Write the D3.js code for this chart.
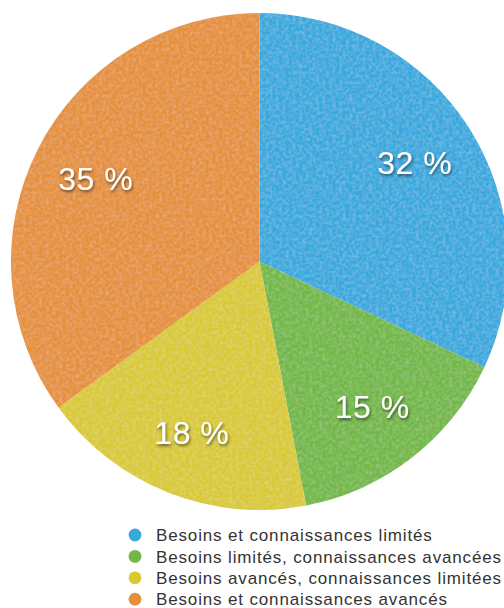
<!DOCTYPE html>
<html>
<head>
<meta charset="utf-8">
<script src="https://cdn.jsdelivr.net/npm/d3@7"></script>
<style>
  html, body { margin: 0; padding: 0; background: #fff; }
  svg { display: block; }
</style>
</head>
<body>
<svg id="chart" width="504" height="608"></svg>
<script>
// Répartition des profils (en %)
const categories = [
  "Besoins et connaissances limités",
  "Besoins limités, connaissances avancées",
  "Besoins avancés, connaissances limitées",
  "Besoins et connaissances avancés"
];
const values = [32, 15, 18, 35];
const colors = ["#37a9de", "#73b846", "#d9c931", "#e5913b"];

const svg = d3.select("#chart");
const cx = 259.5, cy = 261.5, R = 248.5;

const defs = svg.append("defs");

// Light grain on the slices
const grain = defs.append("filter").attr("id", "grain")
  .attr("x", 0).attr("y", 0).attr("width", 1).attr("height", 1);
grain.append("feTurbulence").attr("type", "fractalNoise")
  .attr("baseFrequency", 0.3).attr("numOctaves", 2).attr("seed", 4).attr("result", "n");
grain.append("feColorMatrix").attr("in", "n").attr("type", "matrix")
  .attr("values", "0 0 0 0 1  0 0 0 0 1  0 0 0 0 1  0.3 0 0 0 -0.11")
  .attr("result", "speck");
grain.append("feComposite").attr("in", "speck").attr("in2", "SourceGraphic")
  .attr("operator", "in").attr("result", "sp");
grain.append("feMerge").call(m => {
  m.append("feMergeNode").attr("in", "SourceGraphic");
  m.append("feMergeNode").attr("in", "sp");
});

// Soft shadow under the percentage labels
const shadow = defs.append("filter").attr("id", "txtShadow")
  .attr("x", "-20%").attr("y", "-30%").attr("width", "140%").attr("height", "170%");
shadow.append("feDropShadow").attr("dx", 1).attr("dy", 2)
  .attr("stdDeviation", 1.4).attr("flood-color", "#000").attr("flood-opacity", 0.55);

const pie = d3.pie().sort(null).value(d => d.value);
const data = pie(categories.map((c, i) => ({ name: c, value: values[i], color: colors[i] })));

const arc = d3.arc().innerRadius(0).outerRadius(R);
const labelArc = d3.arc().innerRadius(R * 0.74).outerRadius(R * 0.74);

const g = svg.append("g").attr("transform", `translate(${cx},${cy})`);

const slices = g.append("g").attr("filter", "url(#grain)");
slices.selectAll("path")
  .data(data)
  .join("path")
  .attr("d", arc)
  .attr("fill", d => d.data.color);

g.append("g").selectAll("text")
  .data(data)
  .join("text")
  .attr("transform", d => `translate(${labelArc.centroid(d)})`)
  .attr("text-anchor", "middle")
  .attr("dy", "0.36em")
  .attr("font-family", "'Liberation Sans', Arial, Helvetica, sans-serif")
  .attr("font-size", 32)
  .attr("letter-spacing", 0.5)
  .attr("fill", "#fff")
  .attr("filter", "url(#txtShadow)")
  .text(d => `${d.data.value} %`);

// Légende
const legend = svg.append("g").attr("transform", "translate(135,535)");
const rows = legend.selectAll("g")
  .data(data)
  .join("g")
  .attr("transform", (d, i) => `translate(0,${i * 21.4})`);
rows.append("circle").attr("r", 6.4).attr("fill", d => d.data.color);
rows.append("text")
  .attr("x", 21)
  .attr("dy", "0.36em")
  .attr("font-family", "'Liberation Sans', Arial, Helvetica, sans-serif")
  .attr("font-size", 17)
  .attr("letter-spacing", 0.85)
  .attr("fill", "#333")
  .text(d => d.data.name);
</script>
</body>
</html>
